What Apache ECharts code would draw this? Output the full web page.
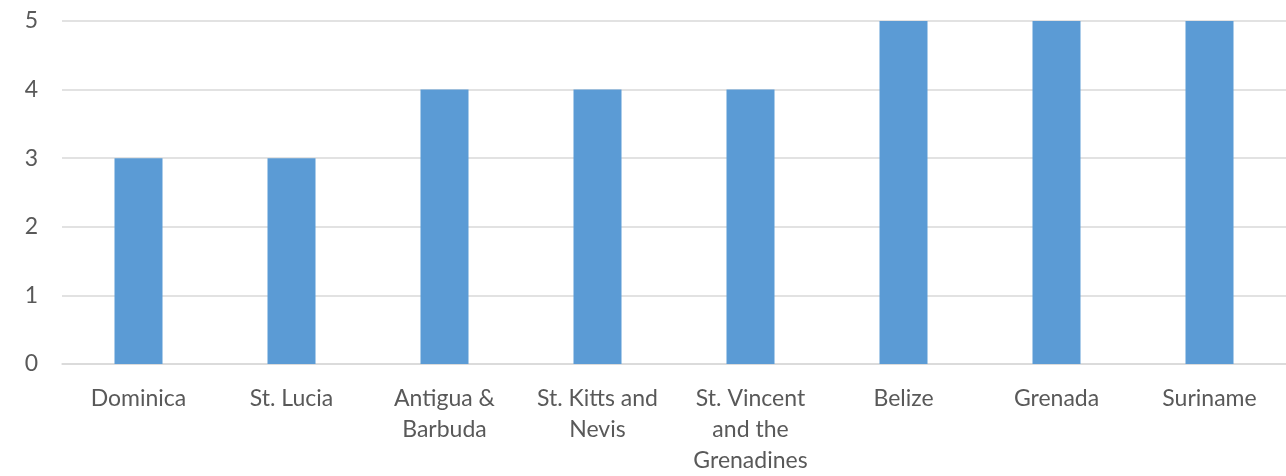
<!DOCTYPE html>
<html>
<head>
<meta charset="utf-8">
<script src="https://cdn.jsdelivr.net/npm/echarts@6/dist/echarts.min.js"></script>
<style>
html,body{margin:0;padding:0;background:#fff;}
#chart{width:1286px;height:476px;}
</style>
</head>
<body>
<div id="chart"></div>
<script>
const categories = ['Dominica', 'St. Lucia', 'Antigua &\nBarbuda', 'St. Kitts and\nNevis', 'St. Vincent\nand the\nGrenadines', 'Belize', 'Grenada', 'Suriname'];
const values = [3, 3, 4, 4, 4, 5, 5, 5];
const yTicks = [0, 1, 2, 3, 4, 5];

const chart = echarts.init(document.getElementById('chart'));
chart.setOption({
  animation: false,
  backgroundColor: '#ffffff',
  textStyle: { fontFamily: 'Lato' },
  grid: { left: 62, top: 21, width: 1229, bottom: 109 },
  xAxis: {
    type: 'category',
    data: categories,
    axisLine: { show: true, lineStyle: { color: '#d9d9d9', width: 1.5 } },
    axisTick: { show: false },
    axisLabel: {
      color: '#595959', fontSize: 23, fontFamily: 'Lato',
      lineHeight: 31, margin: 19, interval: 0, align: 'center'
    }
  },
  yAxis: {
    type: 'value',
    min: yTicks[0],
    max: yTicks[yTicks.length - 1],
    interval: 1,
    axisLine: { show: false },
    axisTick: { show: false },
    axisLabel: { color: '#595959', fontSize: 23, fontFamily: 'Lato', margin: 24 },
    splitLine: { lineStyle: { color: '#d9d9d9', width: 1.5 } }
  },
  series: [{
    type: 'bar',
    data: values,
    barWidth: 48,
    itemStyle: { color: '#5b9bd5' }
  }]
});
</script>
</body>
</html>
